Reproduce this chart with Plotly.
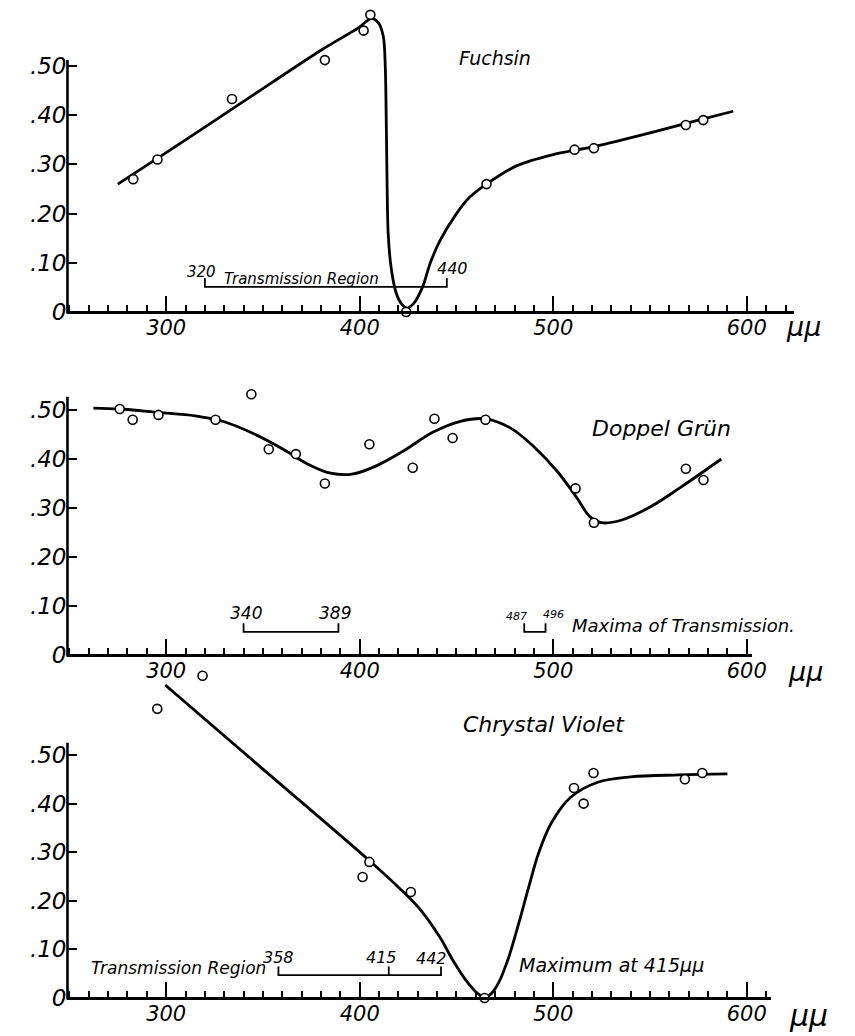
import plotly.graph_objects as go

# the page is photographed with the figure 8 px down from the window top
OFFX, OFFY = 0, 8
W, H = 855 - OFFX, 1036 - OFFY

# ---------------- data ----------------
# Fuchsin
fuchsin_obs_x = [283, 295.5, 334, 382, 402, 405.5, 424, 465.5, 511, 521, 568.5, 577.5]
fuchsin_obs_y = [0.27, 0.31, 0.433, 0.512, 0.572, 0.604, 0.0, 0.26, 0.33, 0.333, 0.38, 0.39]
fuchsin_curve_x = [275, 300, 340, 380, 399.5, 406, 409.6, 412.2, 413.2, 413.8, 414.7, 416.2,
                   418.8, 421.3, 424.4, 428, 432.5, 436.5, 441.6, 450, 457, 465.5, 481, 500,
                   521, 550, 575, 593]
fuchsin_curve_y = [0.26, 0.324, 0.428, 0.532, 0.578, 0.597, 0.588, 0.56, 0.5, 0.364, 0.16, 0.091,
                   0.039, 0.018, 0.008, 0.018, 0.051, 0.1, 0.146, 0.2, 0.234, 0.26, 0.297, 0.32,
                   0.336, 0.364, 0.39, 0.408]
fuchsin_region_x = [320, 445]
fuchsin_region_labels = ["320", "440"]

# Doppel Grün
doppel_obs_x = [276, 282.7, 296, 325.5, 344, 353, 367, 382, 405, 427.4, 438.6, 448, 465,
                511.5, 521, 568.5, 577.6]
doppel_obs_y = [0.502, 0.48, 0.49, 0.48, 0.532, 0.42, 0.41, 0.35, 0.43, 0.382, 0.482, 0.443,
                0.48, 0.34, 0.27, 0.38, 0.357]
doppel_curve_x = [262.4, 276, 296, 315, 330, 345, 360, 373, 385, 396, 408, 422, 438, 452,
                  465, 478, 490, 502, 512, 519, 525, 535, 550, 565, 586.8]
doppel_curve_y = [0.504, 0.502, 0.495, 0.488, 0.476, 0.452, 0.421, 0.39, 0.371, 0.369, 0.385,
                  0.415, 0.455, 0.477, 0.482, 0.463, 0.425, 0.375, 0.322, 0.282, 0.27, 0.275,
                  0.302, 0.34, 0.4]
doppel_region1_x = [340, 389]
doppel_region1_labels = ["340", "389"]
doppel_region2_x = [485, 496]
doppel_region2_labels = ["487", "496"]

# Chrystal Violet
violet_obs_x = [295.4, 318.8, 401.5, 405, 426.4, 464.5, 510.7, 515.7, 520.8, 568, 577]
violet_obs_y = [0.595, 0.663, 0.249, 0.28, 0.218, 0.0, 0.432, 0.40, 0.463, 0.45, 0.463]
violet_curve_x = [299.5, 350, 404.6, 420, 431.5, 441.6, 448.2, 455.3, 461, 464.5, 468, 472,
                  477, 482.2, 487.3, 492.4, 499, 509, 523, 540, 565, 590]
violet_curve_y = [0.644, 0.471, 0.284, 0.228, 0.181, 0.124, 0.077, 0.034, 0.009, 0.002, 0.009,
                  0.033, 0.084, 0.154, 0.228, 0.298, 0.36, 0.413, 0.444, 0.455, 0.459, 0.461]
violet_region_x = [358, 415, 442]
violet_region_labels = ["358", "415", "442"]

x_tick_vals = [300, 400, 500, 600]
x_tick_text = ["300", "400", "500", "600"]
y_tick_vals = [0, 0.1, 0.2, 0.3, 0.4, 0.5]
y_tick_text = ["0", ".10", ".20", ".30", ".40", ".50"]
unit_text = "µµ"

# ---------------- layout geometry (reference-window pixels) ----------------
X0_PX, X_SCALE = 161, 1.97          # window pixel of 300 mµ, pixels per mµ
X_START = 249


def xpx(v):
    return X0_PX + (v - 300) * X_SCALE


def fx(px):
    return (px - OFFX) / W


def fy(py):
    return 1 - (py - OFFY) / H


panels = [
    # y0 pixel, px per unit, y range, x end, axis top, unit label position
    dict(y0=312, s=492, yr=[-0.08, 0.615], xend=624.5, ytop=0.512, unit=(810, 326, 27)),
    dict(y0=655, s=490, yr=[-0.08, 0.56], xend=602.5, ytop=0.527, unit=(812, 671, 27)),
    dict(y0=998, s=486, yr=[-0.06, 0.69], xend=612.7, ytop=0.525, unit=(815, 1015, 30)),
]

FONT = "DejaVu Sans"
BLACK = "black"

fig = go.Figure()
layout = dict(
    width=W, height=H, margin=dict(l=0, r=0, t=0, b=0),
    paper_bgcolor="white", plot_bgcolor="rgba(0,0,0,0)", showlegend=False,
    shapes=[], annotations=[],
)

for i, p in enumerate(panels):
    n = "" if i == 0 else str(i + 1)
    bot_px = p["y0"] - p["yr"][0] * p["s"]
    top_px = p["y0"] - p["yr"][1] * p["s"]
    layout["xaxis" + n] = dict(
        range=[X_START, p["xend"]],
        domain=[fx(xpx(X_START)), fx(xpx(p["xend"]))],
        anchor="free", position=fy(p["y0"]),
        showline=True, linewidth=2.6, linecolor=BLACK,
        ticks="inside", ticklen=15, tickwidth=2, tickcolor=BLACK,
        tickvals=x_tick_vals, ticktext=x_tick_text, ticklabelstandoff=-4,
        tickfont=dict(family=FONT, size=21, color=BLACK, style="italic"),
        minor=dict(tickmode="linear", tick0=250, dtick=10, ticks="inside",
                   ticklen=6, tickwidth=1.6, tickcolor=BLACK, showgrid=False),
        showgrid=False, zeroline=False, fixedrange=True,
    )
    layout["yaxis" + n] = dict(
        range=p["yr"],
        domain=[max(0.0, fy(bot_px)), min(1.0, fy(top_px))],
        anchor="x" + n, showline=False,
        ticks="inside", ticklen=10, tickwidth=2, tickcolor=BLACK,
        tickvals=y_tick_vals, ticktext=y_tick_text,
        tickfont=dict(family=FONT, size=23, color=BLACK, style="italic"),
        showgrid=False, zeroline=False, fixedrange=True,
    )
    # vertical axis line
    layout["shapes"].append(dict(type="line", xref="x" + n + " domain", yref="y" + n,
                                 x0=0, x1=0, y0=-0.003, y1=p["ytop"],
                                 line=dict(color=BLACK, width=2.6)))
    # µµ unit after 600
    ux, uy, us = p["unit"]
    layout["annotations"].append(dict(
        xref="paper", yref="paper", x=fx(ux), y=fy(uy), text=unit_text, showarrow=False,
        xanchor="center", yanchor="middle",
        font=dict(family=FONT, size=us, color=BLACK, style="italic")))

fig.update_layout(**layout)


def add_curve(xs, ys, n, smoothing=1.0):
    fig.add_trace(go.Scatter(x=xs, y=ys, mode="lines", xaxis="x" + n, yaxis="y" + n,
                             line=dict(color=BLACK, width=2.8, shape="spline",
                                       smoothing=smoothing),
                             hoverinfo="skip"))


def add_points(xs, ys, n):
    fig.add_trace(go.Scatter(x=xs, y=ys, mode="markers", xaxis="x" + n, yaxis="y" + n,
                             cliponaxis=False,
                             marker=dict(symbol="circle", size=9, color="white",
                                         line=dict(color=BLACK, width=1.6))))


def add_bracket(xs, n, level=0.049, tick=0.018):
    bx = [xs[0], xs[0], xs[-1], xs[-1]]
    by = [level + tick, level, level, level + tick]
    fig.add_trace(go.Scatter(x=bx, y=by, mode="lines", xaxis="x" + n, yaxis="y" + n,
                             line=dict(color=BLACK, width=1.8), hoverinfo="skip"))
    for xm in xs[1:-1]:
        fig.add_trace(go.Scatter(x=[xm, xm], y=[level, level + tick], mode="lines",
                                 xaxis="x" + n, yaxis="y" + n,
                                 line=dict(color=BLACK, width=1.8), hoverinfo="skip"))


def label(n, x, y, text, size, xanchor="center"):
    fig.add_annotation(xref="x" + n, yref="y" + n, x=x, y=y, text=text, showarrow=False,
                       xanchor=xanchor, yanchor="middle",
                       font=dict(family=FONT, size=size, color=BLACK, style="italic"))


# ---- Fuchsin ----
add_curve(fuchsin_curve_x, fuchsin_curve_y, "", smoothing=0.8)
add_bracket(fuchsin_region_x, "", level=0.051)
add_points(fuchsin_obs_x, fuchsin_obs_y, "")
label("", 470, 0.516, "Fuchsin", 19)
label("", fuchsin_region_x[0] - 2, 0.081, fuchsin_region_labels[0], 15)
label("", 329, 0.067, "Transmission Region", 15, xanchor="left")
label("", fuchsin_region_x[1] + 3, 0.089, fuchsin_region_labels[1], 16)

# ---- Doppel Grün ----
add_curve(doppel_curve_x, doppel_curve_y, "2")
add_bracket(doppel_region1_x, "2", level=0.047)
add_bracket(doppel_region2_x, "2", level=0.047)
add_points(doppel_obs_x, doppel_obs_y, "2")
label("2", 556, 0.463, "Doppel Grün", 22)
label("2", doppel_region1_x[0] + 1, 0.086, doppel_region1_labels[0], 17)
label("2", doppel_region1_x[1] - 2, 0.086, doppel_region1_labels[1], 17)
label("2", 481, 0.078, doppel_region2_labels[0], 11)
label("2", 500, 0.082, doppel_region2_labels[1], 11)
label("2", 508.6, 0.061, "Maxima of Transmission.", 18, xanchor="left")

# ---- Chrystal Violet ----
add_curve(violet_curve_x, violet_curve_y, "3")
add_bracket(violet_region_x, "3", level=0.047)
add_points(violet_obs_x, violet_obs_y, "3")
label("3", 495, 0.562, "Chrystal Violet", 22)
label("3", 259.9, 0.062, "Transmission Region", 17, xanchor="left")
label("3", violet_region_x[0], 0.084, violet_region_labels[0], 16)
label("3", violet_region_x[1] - 4, 0.084, violet_region_labels[1], 16)
label("3", violet_region_x[2] - 5, 0.082, violet_region_labels[2], 16)
label("3", 481.2, 0.068, "Maximum at 415µµ", 19, xanchor="left")

fig.write_html("out.html")
